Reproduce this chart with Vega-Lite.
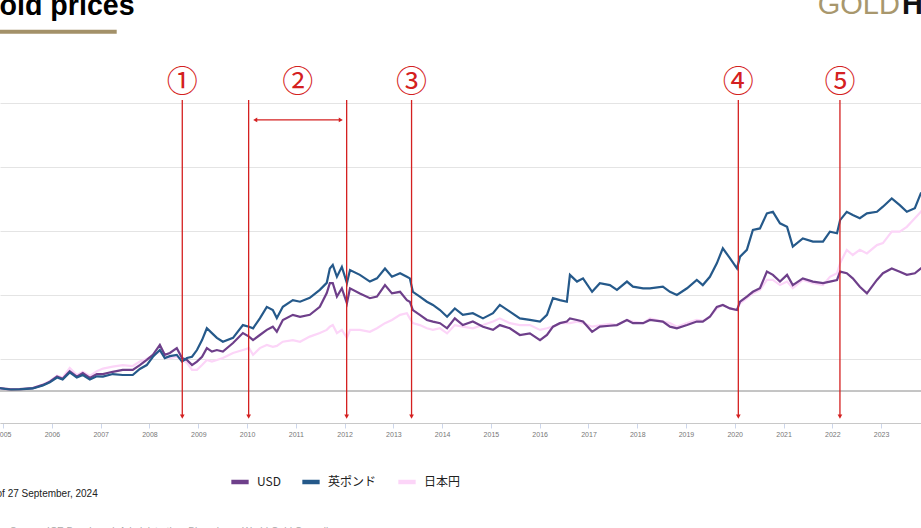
{
  "$schema": "https://vega.github.io/schema/vega-lite/v6.json",
  "width": 921,
  "height": 320,
  "autosize": {"type": "none"},
  "padding": {"top": 103, "bottom": 105, "left": 0, "right": 0},
  "background": "white",
  "config": {"view": {"stroke": null}, "font": "Liberation Sans"},
  "datasets": {
    "gold": [
      {"d": "2004-12-01", "USD": 9, "英ポンド": 9, "日本円": 8},
      {"d": "2005-03-01", "USD": 5, "英ポンド": 4, "日本円": 3},
      {"d": "2005-05-05", "USD": 6, "英ポンド": 5, "日本円": 4},
      {"d": "2005-08-11", "USD": 9, "英ポンド": 8, "日本円": 9},
      {"d": "2005-10-25", "USD": 19, "英ポンド": 17, "日本円": 20},
      {"d": "2005-12-16", "USD": 29, "英ポンド": 27, "日本円": 31},
      {"d": "2006-02-08", "USD": 45, "英ポンド": 42, "日本円": 48},
      {"d": "2006-03-22", "USD": 38, "英ポンド": 36, "日本円": 42},
      {"d": "2006-05-14", "USD": 62, "英ポンド": 58, "日本円": 72},
      {"d": "2006-07-06", "USD": 45, "英ポンド": 42, "日本円": 50},
      {"d": "2006-08-20", "USD": 56, "英ポンド": 50, "日本円": 60},
      {"d": "2006-10-12", "USD": 41, "英ポンド": 36, "日本円": 47},
      {"d": "2006-12-03", "USD": 53, "英ポンド": 46, "日本円": 62},
      {"d": "2007-01-18", "USD": 53, "英ポンド": 45, "日本円": 70},
      {"d": "2007-04-01", "USD": 60, "英ポンド": 53, "日本円": 76},
      {"d": "2007-06-15", "USD": 66, "英ポンド": 50, "日本円": 81},
      {"d": "2007-08-29", "USD": 66, "英ポンド": 50, "日本円": 78},
      {"d": "2007-10-21", "USD": 81, "英ポンド": 69, "日本円": 92},
      {"d": "2007-12-12", "USD": 97, "英ポンド": 81, "日本円": 100},
      {"d": "2008-01-27", "USD": 113, "英ポンド": 107, "日本円": 113},
      {"d": "2008-03-19", "USD": 144, "英ポンド": 128, "日本円": 123},
      {"d": "2008-04-25", "USD": 113, "英ポンド": 103, "日本円": 107},
      {"d": "2008-06-02", "USD": 119, "英ポンド": 109, "日本円": 103},
      {"d": "2008-07-24", "USD": 134, "英ポンド": 113, "日本円": 107},
      {"d": "2008-09-01", "USD": 103, "英ポンド": 92, "日本円": 97},
      {"d": "2008-10-08", "USD": 97, "英ポンド": 103, "日本円": 88},
      {"d": "2008-11-15", "USD": 81, "英ポンド": 107, "日本円": 66},
      {"d": "2008-12-22", "USD": 92, "英ポンド": 128, "日本円": 66},
      {"d": "2009-01-29", "USD": 107, "英ポンド": 159, "日本円": 81},
      {"d": "2009-03-06", "USD": 134, "英ポンド": 196, "日本円": 97},
      {"d": "2009-04-13", "USD": 123, "英ポンド": 181, "日本円": 92},
      {"d": "2009-05-20", "USD": 128, "英ポンド": 166, "日本円": 97},
      {"d": "2009-07-04", "USD": 123, "英ポンド": 154, "日本円": 103},
      {"d": "2009-09-18", "USD": 150, "英ポンド": 166, "日本円": 119},
      {"d": "2009-12-01", "USD": 181, "英ポンド": 206, "日本円": 128},
      {"d": "2010-01-16", "USD": 170, "英ポンド": 201, "日本円": 134},
      {"d": "2010-02-15", "USD": 159, "英ポンド": 196, "日本円": 113},
      {"d": "2010-04-07", "USD": 175, "英ポンド": 227, "日本円": 134},
      {"d": "2010-05-29", "USD": 191, "英ポンド": 263, "日本円": 144},
      {"d": "2010-07-13", "USD": 201, "英ポンド": 253, "日本円": 138},
      {"d": "2010-08-12", "USD": 185, "英ポンド": 228, "日本円": 141},
      {"d": "2010-09-26", "USD": 222, "英ポンド": 263, "日本円": 154},
      {"d": "2010-12-10", "USD": 238, "英ポンド": 284, "日本円": 159},
      {"d": "2011-02-02", "USD": 232, "英ポンド": 279, "日本円": 154},
      {"d": "2011-04-16", "USD": 238, "英ポンド": 291, "日本円": 170},
      {"d": "2011-06-30", "USD": 263, "英ポンド": 316, "日本円": 181},
      {"d": "2011-08-21", "USD": 306, "英ポンド": 338, "日本円": 191},
      {"d": "2011-09-13", "USD": 337, "英ポンド": 383, "日本円": 201},
      {"d": "2011-10-05", "USD": 337, "英ポンド": 394, "日本円": 206},
      {"d": "2011-11-05", "USD": 295, "英ポンド": 357, "日本円": 181},
      {"d": "2011-12-12", "USD": 321, "英ポンド": 388, "日本円": 191},
      {"d": "2012-01-19", "USD": 274, "英ポンド": 337, "日本円": 166},
      {"d": "2012-02-11", "USD": 321, "英ポンド": 378, "日本円": 191},
      {"d": "2012-04-25", "USD": 305, "英ポンド": 363, "日本円": 191},
      {"d": "2012-07-09", "USD": 290, "英ポンド": 342, "日本円": 185},
      {"d": "2012-08-31", "USD": 295, "英ポンド": 352, "日本円": 196},
      {"d": "2012-10-30", "USD": 331, "英ポンド": 383, "日本円": 212},
      {"d": "2012-12-21", "USD": 305, "英ポンド": 357, "日本円": 222},
      {"d": "2013-02-20", "USD": 310, "英ポンド": 368, "日本円": 238},
      {"d": "2013-04-12", "USD": 284, "英ポンド": 357, "日本円": 243},
      {"d": "2013-05-04", "USD": 279, "英ポンド": 352, "日本円": 227},
      {"d": "2013-05-27", "USD": 253, "英ポンド": 310, "日本円": 212},
      {"d": "2013-07-18", "USD": 238, "英ポンド": 295, "日本円": 206},
      {"d": "2013-09-09", "USD": 222, "英ポンド": 279, "日本円": 196},
      {"d": "2013-10-24", "USD": 217, "英ポンド": 269, "日本円": 191},
      {"d": "2013-12-16", "USD": 212, "英ポンド": 253, "日本円": 196},
      {"d": "2014-02-07", "USD": 196, "英ポンド": 232, "日本円": 180},
      {"d": "2014-04-06", "USD": 227, "英ポンド": 258, "日本円": 206},
      {"d": "2014-06-05", "USD": 206, "英ポンド": 238, "日本円": 201},
      {"d": "2014-08-19", "USD": 217, "英ポンド": 243, "日本円": 196},
      {"d": "2014-11-03", "USD": 201, "英ポンド": 227, "日本円": 206},
      {"d": "2015-01-17", "USD": 191, "英ポンド": 243, "日本円": 217},
      {"d": "2015-03-09", "USD": 206, "英ポンド": 269, "日本円": 227},
      {"d": "2015-05-23", "USD": 196, "英ポンド": 248, "日本円": 212},
      {"d": "2015-08-06", "USD": 175, "英ポンド": 227, "日本円": 206},
      {"d": "2015-10-20", "USD": 180, "英ポンド": 222, "日本円": 206},
      {"d": "2016-01-04", "USD": 159, "英ポンド": 217, "日本円": 191},
      {"d": "2016-02-25", "USD": 175, "英ポンド": 238, "日本円": 196},
      {"d": "2016-04-10", "USD": 201, "英ポンド": 290, "日本円": 201},
      {"d": "2016-06-01", "USD": 212, "英ポンド": 284, "日本円": 212},
      {"d": "2016-07-23", "USD": 217, "英ポンド": 279, "日本円": 212},
      {"d": "2016-08-15", "USD": 227, "英ポンド": 363, "日本円": 212},
      {"d": "2016-10-07", "USD": 222, "英ポンド": 342, "日本円": 217},
      {"d": "2016-11-21", "USD": 217, "英ポンド": 352, "日本円": 212},
      {"d": "2017-01-28", "USD": 185, "英ポンド": 310, "日本円": 201},
      {"d": "2017-03-27", "USD": 201, "英ポンド": 337, "日本円": 205},
      {"d": "2017-06-10", "USD": 204, "英ポンド": 331, "日本円": 210},
      {"d": "2017-08-02", "USD": 206, "英ポンド": 316, "日本円": 206},
      {"d": "2017-10-16", "USD": 222, "英ポンド": 342, "日本円": 222},
      {"d": "2017-11-30", "USD": 212, "英ポンド": 326, "日本円": 217},
      {"d": "2018-02-14", "USD": 212, "英ポンド": 321, "日本円": 212},
      {"d": "2018-04-06", "USD": 222, "英ポンド": 321, "日本円": 227},
      {"d": "2018-07-12", "USD": 217, "英ポンド": 326, "日本円": 217},
      {"d": "2018-09-03", "USD": 201, "英ポンド": 310, "日本円": 212},
      {"d": "2018-10-25", "USD": 196, "英ポンド": 300, "日本円": 201},
      {"d": "2019-01-09", "USD": 206, "英ポンド": 321, "日本円": 212},
      {"d": "2019-03-23", "USD": 217, "英ポンド": 347, "日本円": 222},
      {"d": "2019-05-07", "USD": 217, "英ポンド": 331, "日本円": 219},
      {"d": "2019-06-29", "USD": 232, "英ポンド": 357, "日本円": 232},
      {"d": "2019-08-20", "USD": 263, "英ポンド": 399, "日本円": 258},
      {"d": "2019-10-04", "USD": 269, "英ポンド": 446, "日本円": 269},
      {"d": "2019-11-26", "USD": 258, "英ポンド": 415, "日本円": 258},
      {"d": "2020-01-18", "USD": 253, "英ポンド": 383, "日本円": 253},
      {"d": "2020-02-10", "USD": 279, "英ポンド": 420, "日本円": 274},
      {"d": "2020-04-01", "USD": 295, "英ポンド": 441, "日本円": 290},
      {"d": "2020-05-16", "USD": 310, "英ポンド": 503, "日本円": 305},
      {"d": "2020-07-08", "USD": 321, "英ポンド": 508, "日本円": 316},
      {"d": "2020-08-29", "USD": 373, "英ポンド": 555, "日本円": 347},
      {"d": "2020-10-13", "USD": 363, "英ポンド": 560, "日本円": 347},
      {"d": "2020-12-05", "USD": 342, "英ポンド": 524, "日本円": 331},
      {"d": "2021-01-27", "USD": 363, "英ポンド": 513, "日本円": 342},
      {"d": "2021-03-11", "USD": 331, "英ポンド": 451, "日本円": 321},
      {"d": "2021-05-25", "USD": 352, "英ポンド": 477, "日本円": 347},
      {"d": "2021-08-09", "USD": 342, "英ポンド": 467, "日本円": 337},
      {"d": "2021-10-23", "USD": 337, "英ポンド": 467, "日本円": 331},
      {"d": "2021-12-14", "USD": 342, "英ポンド": 498, "日本円": 357},
      {"d": "2022-02-05", "USD": 347, "英ポンド": 493, "日本円": 368},
      {"d": "2022-02-28", "USD": 373, "英ポンド": 534, "日本円": 399},
      {"d": "2022-04-19", "USD": 368, "英ポンド": 560, "日本円": 441},
      {"d": "2022-06-03", "USD": 352, "英ポンド": 550, "日本円": 425},
      {"d": "2022-07-26", "USD": 326, "英ポンド": 540, "日本円": 441},
      {"d": "2022-09-17", "USD": 305, "英ポンド": 555, "日本円": 430},
      {"d": "2022-12-01", "USD": 347, "英ポンド": 560, "日本円": 456},
      {"d": "2023-01-15", "USD": 368, "英ポンド": 576, "日本円": 462},
      {"d": "2023-03-22", "USD": 383, "英ポンド": 602, "日本円": 498},
      {"d": "2023-05-21", "USD": 373, "英ポンド": 581, "日本円": 498},
      {"d": "2023-07-13", "USD": 363, "英ポンド": 560, "日本円": 513},
      {"d": "2023-09-11", "USD": 368, "英ポンド": 571, "日本円": 540},
      {"d": "2023-10-26", "USD": 383, "英ポンド": 618, "日本円": 560},
      {"d": "2023-12-15", "USD": 395, "英ポンド": 630, "日本円": 590}
    ],
    "events": [
      {"d": "2008-09-03"},
      {"d": "2010-01-13"},
      {"d": "2012-01-17"},
      {"d": "2013-05-17"},
      {"d": "2020-01-28"},
      {"d": "2022-02-27"}
    ],
    "labels": [
      {"d": "2008-09-03", "label": "①"},
      {"d": "2011-01-15", "label": "②"},
      {"d": "2013-05-17", "label": "③"},
      {"d": "2020-01-28", "label": "④"},
      {"d": "2022-02-27", "label": "⑤"}
    ],
    "span": [{"start": "2010-03-03", "end": "2011-12-04"}],
    "one": [{}]
  },
  "layer": [
    {
      "data": {"name": "gold"},
      "transform": [{"fold": ["日本円", "USD", "英ポンド"], "as": ["series", "value"]}],
      "mark": {"type": "line", "strokeWidth": 2.2, "interpolate": "linear"},
      "encoding": {
        "x": {
          "field": "d", "type": "temporal",
          "scale": {"domain": [{"year": 2004, "month": 12, "date": 8}, {"year": 2023, "month": 10, "date": 27}], "nice": false},
          "axis": {
            "title": null, "format": "%Y", "tickCount": {"interval": "year", "step": 1},
            "grid": false, "domainColor": "#c8c8c8", "tickColor": "#ccd6eb", "tickSize": 5,
            "labelFontSize": 7, "labelColor": "#777", "labelPadding": 2,
            "labelFlush": false, "labelOverlap": false
          }
        },
        "y": {
          "field": "value", "type": "quantitative",
          "scale": {"domain": [-100, 900], "nice": false, "zero": false},
          "axis": {
            "title": null, "labels": false, "ticks": false, "domain": false,
            "values": [-100, 0, 100, 200, 300, 400, 500, 600, 700, 800, 900],
            "grid": true, "gridColor": "#e4e4e4", "gridWidth": 1
          }
        },
        "color": {
          "field": "series", "type": "nominal",
          "scale": {"domain": ["USD", "英ポンド", "日本円"], "range": ["#6e3f8a", "#25598a", "#fcd5f8"]},
          "legend": {
            "orient": "none", "legendX": 229, "legendY": 368, "direction": "horizontal",
            "title": null, "symbolType": "stroke", "symbolStrokeWidth": 4.5, "symbolSize": 300,
            "labelFont": "Noto Sans CJK JP", "labelFontSize": 12, "labelColor": "#222",
            "labelOffset": 6, "columnPadding": 12
          }
        }
      }
    },
    {
      "data": {"name": "one"},
      "mark": {"type": "rule", "color": "#8a8a8a", "strokeWidth": 1},
      "encoding": {"y": {"datum": 0}}
    },
    {
      "data": {"name": "events"},
      "mark": {"type": "rule", "color": "#d42020", "strokeWidth": 1.3},
      "encoding": {
        "x": {"field": "d", "type": "temporal"},
        "y": {"datum": 909},
        "y2": {"datum": -78}
      }
    },
    {
      "data": {"name": "events"},
      "mark": {"type": "point", "shape": "triangle-down", "filled": true, "size": 22, "color": "#d42020", "opacity": 1},
      "encoding": {
        "x": {"field": "d", "type": "temporal"},
        "y": {"datum": -80}
      }
    },
    {
      "data": {"name": "labels"},
      "mark": {"type": "text", "font": "Noto Sans CJK JP", "fontSize": 31, "color": "#d42020", "baseline": "middle", "align": "center"},
      "encoding": {
        "x": {"field": "d", "type": "temporal"},
        "y": {"datum": 962},
        "text": {"field": "label"}
      }
    },
    {
      "data": {"name": "span"},
      "mark": {"type": "rule", "color": "#d42020", "strokeWidth": 1.2},
      "encoding": {
        "x": {"field": "start", "type": "temporal"},
        "x2": {"field": "end"},
        "y": {"datum": 847}
      }
    },
    {
      "data": {"name": "span"},
      "mark": {"type": "point", "shape": "triangle-left", "filled": true, "size": 22, "color": "#d42020", "opacity": 1},
      "encoding": {
        "x": {"field": "start", "type": "temporal"},
        "y": {"datum": 847}
      }
    },
    {
      "data": {"name": "span"},
      "mark": {"type": "point", "shape": "triangle-right", "filled": true, "size": 22, "color": "#d42020", "opacity": 1},
      "encoding": {
        "x": {"field": "end", "type": "temporal"},
        "y": {"datum": 847}
      }
    },
    {
      "data": {"name": "one"},
      "mark": {"type": "text", "text": "Gold prices", "font": "Liberation Sans", "fontWeight": "bold", "fontSize": 28.6, "color": "#000", "align": "left", "baseline": "alphabetic"},
      "encoding": {
        "x": {"datum": {"year": 2004, "month": 6, "date": 21}},
        "y": {"datum": 1175}
      }
    },
    {
      "data": {"name": "one"},
      "mark": {"type": "rule", "color": "#a39169", "strokeWidth": 4},
      "encoding": {
        "x": {"datum": {"year": 2004, "month": 11, "date": 1}},
        "x2": {"datum": {"year": 2007, "month": 5, "date": 1}},
        "y": {"datum": 1123}
      }
    },
    {
      "data": {"name": "one"},
      "mark": {"type": "text", "text": "GOLD", "font": "Liberation Sans", "fontSize": 29, "color": "#a8976d", "align": "right", "baseline": "alphabetic"},
      "encoding": {
        "x": {"datum": {"year": 2023, "month": 5, "date": 22}},
        "y": {"datum": 1178}
      }
    },
    {
      "data": {"name": "one"},
      "mark": {"type": "text", "text": "HUB", "font": "Liberation Sans", "fontWeight": "bold", "fontSize": 29, "color": "#111", "align": "left", "baseline": "alphabetic"},
      "encoding": {
        "x": {"datum": {"year": 2023, "month": 6, "date": 6}},
        "y": {"datum": 1178}
      }
    },
    {
      "data": {"name": "one"},
      "mark": {"type": "text", "text": "Data as of 27 September, 2024", "font": "Liberation Sans", "fontSize": 10, "color": "#222", "align": "right", "baseline": "alphabetic"},
      "encoding": {
        "x": {"datum": {"year": 2006, "month": 12, "date": 10}},
        "y": {"datum": -331}
      }
    },
    {
      "data": {"name": "one"},
      "mark": {"type": "text", "text": "Source: ICE Benchmark Administration, Bloomberg, World Gold Council", "font": "Liberation Sans", "fontSize": 10, "color": "#aaa", "align": "left", "baseline": "alphabetic"},
      "encoding": {
        "x": {"datum": {"year": 2005, "month": 2, "date": 20}},
        "y": {"datum": -450}
      }
    }
  ]
}
